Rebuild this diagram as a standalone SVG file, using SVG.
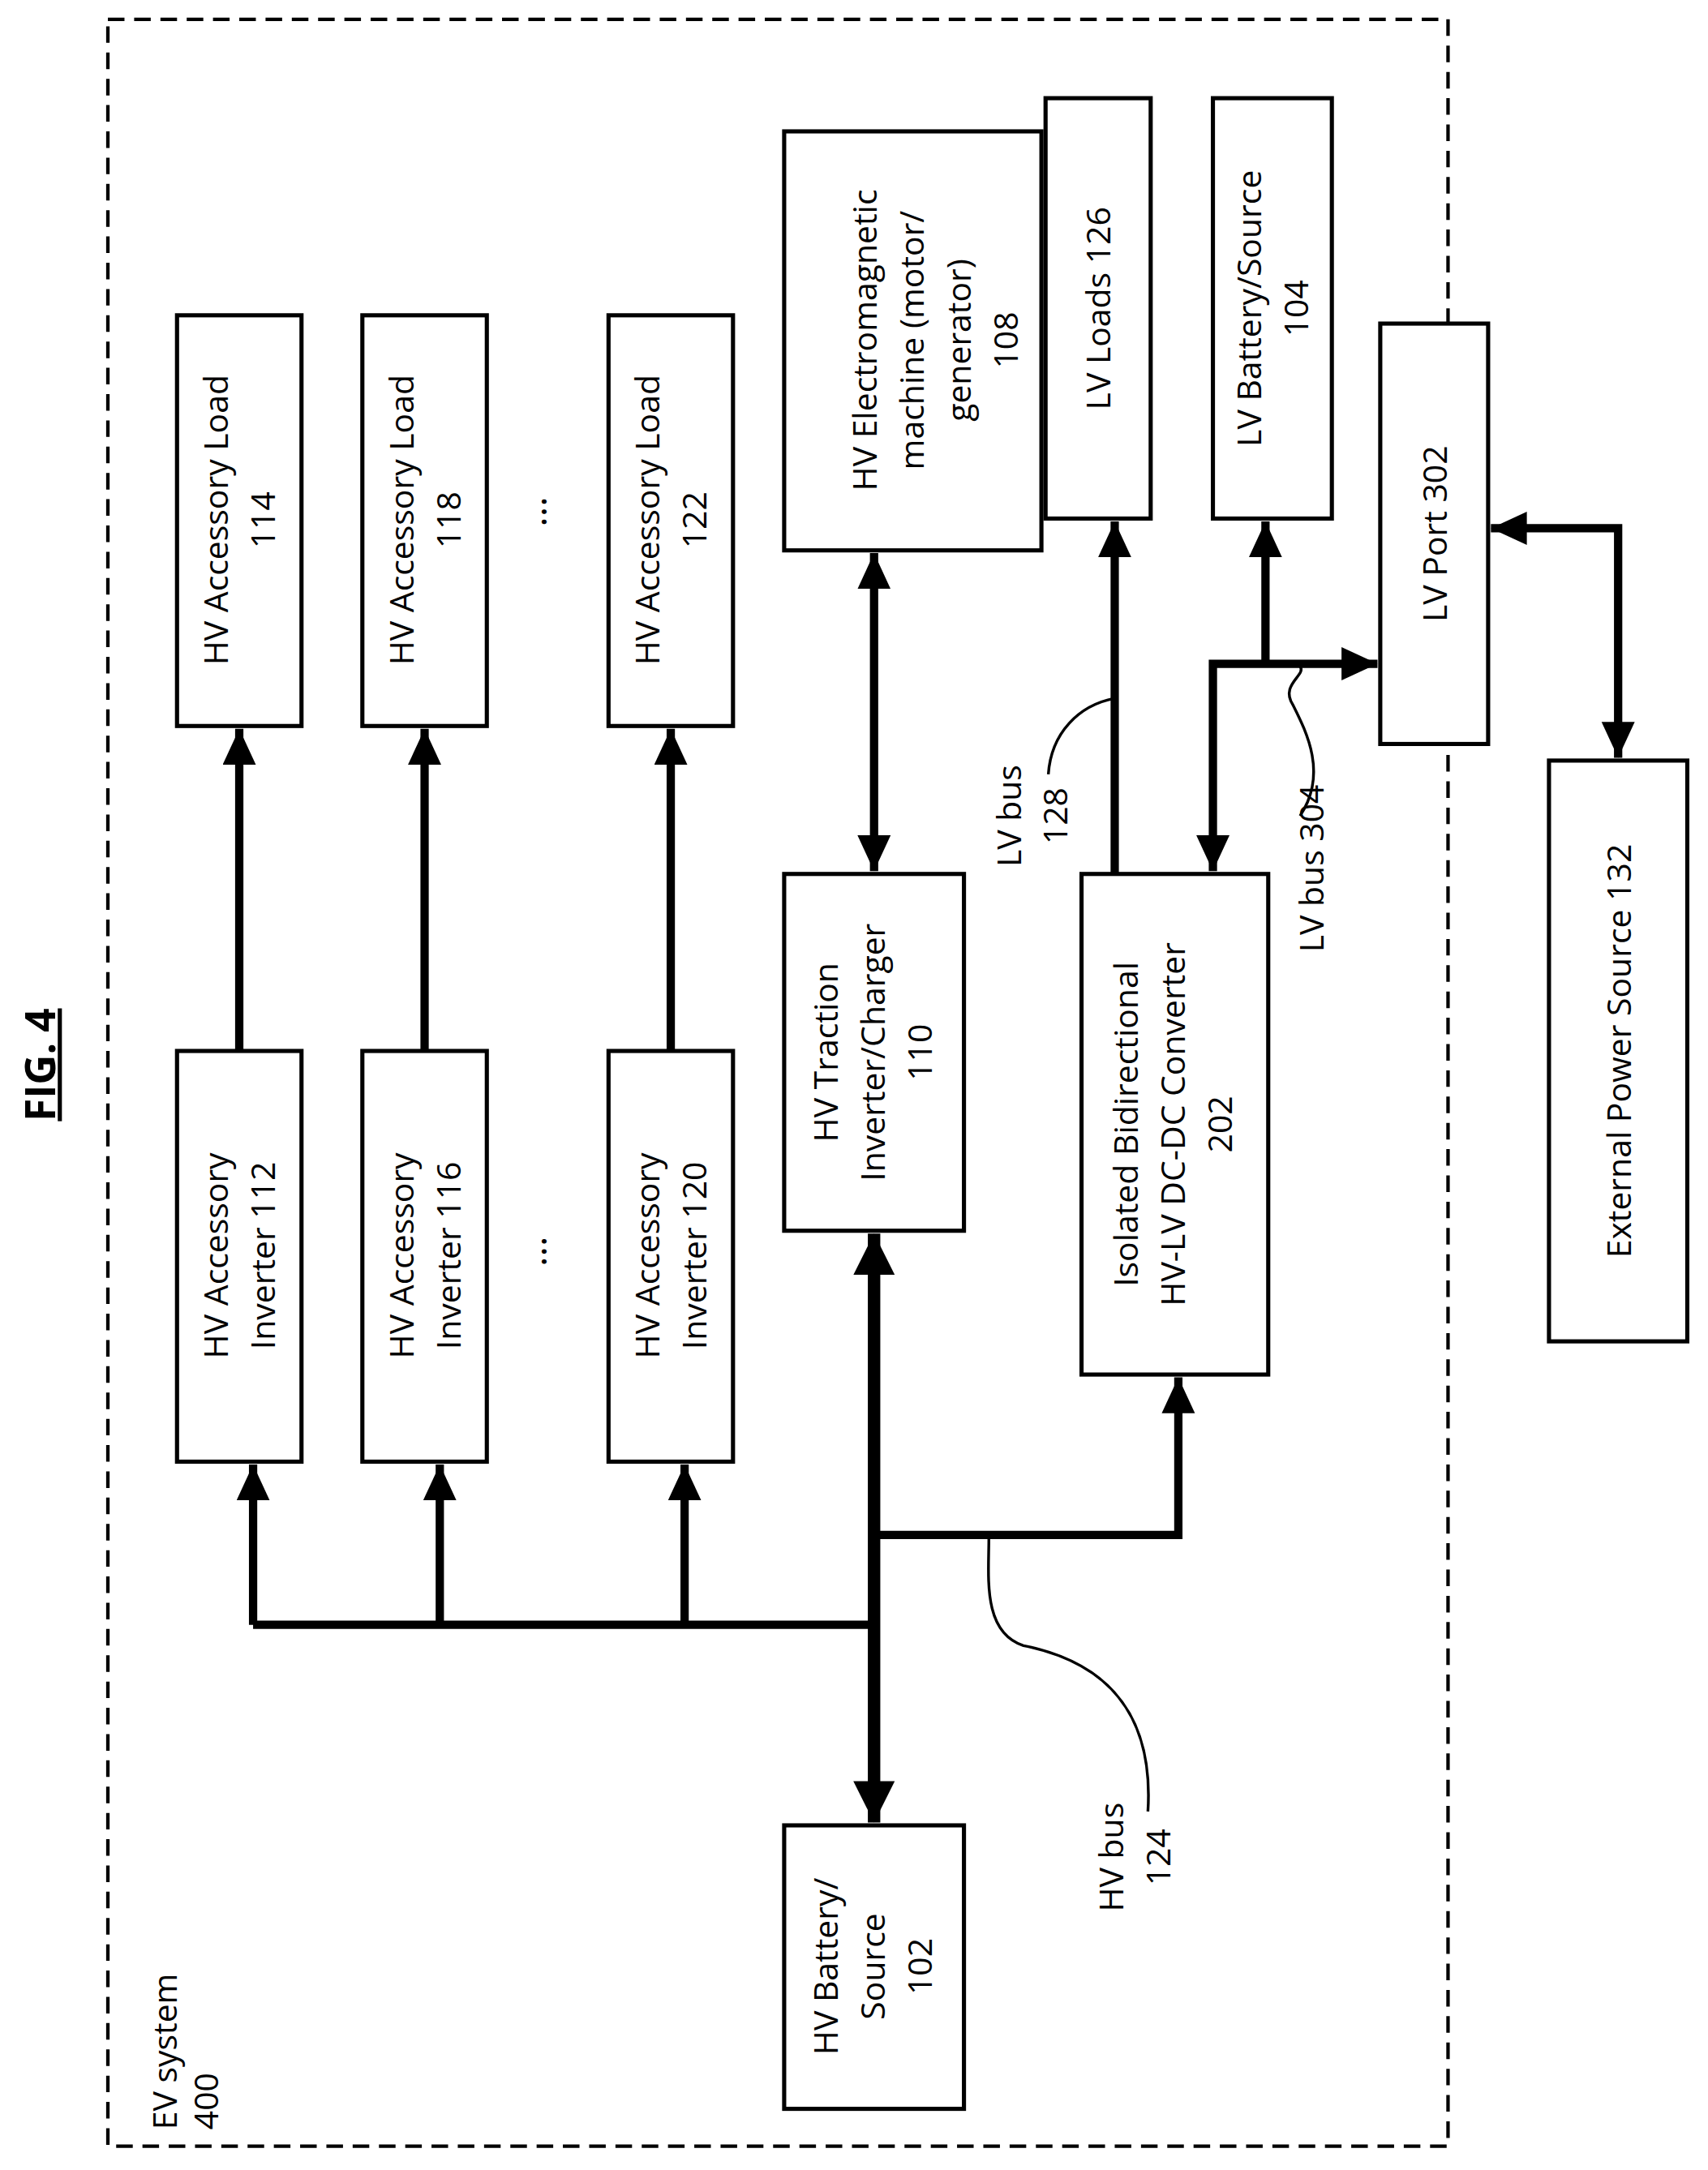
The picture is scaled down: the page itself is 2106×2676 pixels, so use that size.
<svg xmlns="http://www.w3.org/2000/svg" width="2106" height="2676" viewBox="0 0 2106 2676">
<style>
.b{fill:#fff;stroke:#000;stroke-width:3}
.t{font-family:"Open Sans","Liberation Sans",sans-serif;font-size:24px;fill:#000;text-anchor:middle}
.w{fill:none;stroke:#000;stroke-width:6}
.k{fill:none;stroke:#000;stroke-width:9}
.c{fill:none;stroke:#000;stroke-width:2}
</style>
<defs>
<marker id="a" markerUnits="userSpaceOnUse" markerWidth="30" markerHeight="26" refX="26" refY="12" orient="auto-start-reverse"><path d="M0,0 L26,12 L0,24 z" fill="#000"/></marker>
<marker id="A" markerUnits="userSpaceOnUse" markerWidth="34" markerHeight="32" refX="30" refY="15" orient="auto-start-reverse"><path d="M0,0 L30,15 L0,30 z" fill="#000"/></marker>
</defs>
<rect width="2106" height="2676" fill="#fff"/>
<g transform="scale(1.7053)">
<rect x="78" y="14" width="969" height="1538" fill="none" stroke="#000" stroke-width="2.5" stroke-dasharray="12,7"/>
<text class="t" transform="translate(40,770) rotate(-90)" style="font-weight:bold;font-size:30px;text-decoration:underline">FIG. 4</text>
<text class="t" transform="translate(128,1540) rotate(-90)" style="text-anchor:start"><tspan x="0" y="0">EV system</tspan><tspan x="0" y="30">400</tspan></text>
<g id="n114"><rect class="b" x="128" y="228" width="90" height="297"/><text class="t" transform="translate(173,376) rotate(-90)"><tspan x="0" y="-8">HV Accessory Load</tspan><tspan x="0" y="26">114</tspan></text></g>
<g id="n118"><rect class="b" x="262" y="228" width="90" height="297"/><text class="t" transform="translate(307,376) rotate(-90)"><tspan x="0" y="-8">HV Accessory Load</tspan><tspan x="0" y="26">118</tspan></text></g>
<g id="n122"><rect class="b" x="440" y="228" width="90" height="297"/><text class="t" transform="translate(485,376) rotate(-90)"><tspan x="0" y="-8">HV Accessory Load</tspan><tspan x="0" y="26">122</tspan></text></g>
<g id="n112"><rect class="b" x="128" y="760" width="90" height="297"/><text class="t" transform="translate(173,908) rotate(-90)"><tspan x="0" y="-8">HV Accessory</tspan><tspan x="0" y="26">Inverter 112</tspan></text></g>
<g id="n116"><rect class="b" x="262" y="760" width="90" height="297"/><text class="t" transform="translate(307,908) rotate(-90)"><tspan x="0" y="-8">HV Accessory</tspan><tspan x="0" y="26">Inverter 116</tspan></text></g>
<g id="n120"><rect class="b" x="440" y="760" width="90" height="297"/><text class="t" transform="translate(485,908) rotate(-90)"><tspan x="0" y="-8">HV Accessory</tspan><tspan x="0" y="26">Inverter 120</tspan></text></g>
<text class="t" transform="translate(395,370) rotate(-90)" style="font-size:28px">...</text>
<text class="t" transform="translate(395,905) rotate(-90)" style="font-size:28px">...</text>
<g id="n108"><rect class="b" x="567" y="95" width="186" height="303"/><text class="t" transform="translate(660,246) rotate(-90)"><tspan x="0" y="-26">HV Electromagnetic</tspan><tspan x="0" y="8">machine (motor/</tspan><tspan x="0" y="42">generator)</tspan><tspan x="0" y="76">108</tspan></text></g>
<g id="n110"><rect class="b" x="567" y="632" width="130" height="258"/><text class="t" transform="translate(632,761) rotate(-90)"><tspan x="0" y="-26">HV Traction</tspan><tspan x="0" y="8">Inverter/Charger</tspan><tspan x="0" y="42">110</tspan></text></g>
<g id="n102"><rect class="b" x="567" y="1320" width="130" height="205"/><text class="t" transform="translate(632,1422) rotate(-90)"><tspan x="0" y="-26">HV Battery/</tspan><tspan x="0" y="8">Source</tspan><tspan x="0" y="42">102</tspan></text></g>
<g id="n126"><rect class="b" x="756" y="71" width="76" height="304"/><text class="t" transform="translate(794,223) rotate(-90)"><tspan x="0" y="9">LV Loads 126</tspan></text></g>
<g id="n104"><rect class="b" x="877" y="71" width="86" height="304"/><text class="t" transform="translate(920,223) rotate(-90)"><tspan x="0" y="-8">LV Battery/Source</tspan><tspan x="0" y="26">104</tspan></text></g>
<g id="n302"><rect class="b" x="998" y="234" width="78" height="304"/><text class="t" transform="translate(1037,386) rotate(-90)"><tspan x="0" y="9">LV Port 302</tspan></text></g>
<g id="n202"><rect class="b" x="782" y="632" width="135" height="362"/><text class="t" transform="translate(849,813) rotate(-90)"><tspan x="0" y="-26">Isolated Bidirectional</tspan><tspan x="0" y="8">HV-LV DC-DC Converter</tspan><tspan x="0" y="42">202</tspan></text></g>
<g id="n132"><rect class="b" x="1120" y="550" width="100" height="420"/><text class="t" transform="translate(1170,760) rotate(-90)"><tspan x="0" y="9">External Power Source 132</tspan></text></g>
<g id="connectors">
<path class="w" d="M183,1175 H632"/>
<path class="w" d="M183,1175 V1059" marker-end="url(#a)"/>
<path class="w" d="M318,1175 V1059" marker-end="url(#a)"/>
<path class="w" d="M495,1175 V1059" marker-end="url(#a)"/>
<path class="w" d="M173,760 V527" marker-end="url(#a)"/>
<path class="w" d="M307,760 V527" marker-end="url(#a)"/>
<path class="w" d="M485,760 V527" marker-end="url(#a)"/>
<path class="k" d="M632,892 V1318" marker-start="url(#A)" marker-end="url(#A)"/>
<path class="w" d="M632,1110 H852 V996" marker-end="url(#a)"/>
<path class="w" d="M632,400 V630" marker-start="url(#a)" marker-end="url(#a)"/>
<path class="w" d="M806,632 V377" marker-end="url(#a)"/>
<path class="w" d="M877,630 V480 H996" marker-start="url(#a)" marker-end="url(#a)"/>
<path class="w" d="M915,480 V377" marker-end="url(#a)"/>
<path class="w" d="M1078,382 H1170 V548" marker-start="url(#a)" marker-end="url(#a)"/>
<path class="c" d="M758,560 C760,530 780,510 806,505"/>
<path class="c" d="M940,590 C960,560 945,530 935,510 C925,495 945,488 940,482"/>
<path class="c" d="M830,1310 C835,1230 790,1200 740,1190 C710,1180 715,1140 715,1112"/>
</g>
<text class="t" transform="translate(738,590) rotate(-90)"><tspan x="0" y="0">LV bus</tspan><tspan x="0" y="34">128</tspan></text>
<text class="t" transform="translate(957,628) rotate(-90)"><tspan x="0" y="0">LV bus 304</tspan></text>
<text class="t" transform="translate(812,1343) rotate(-90)"><tspan x="0" y="0">HV bus</tspan><tspan x="0" y="34">124</tspan></text>
</g>
</svg>
